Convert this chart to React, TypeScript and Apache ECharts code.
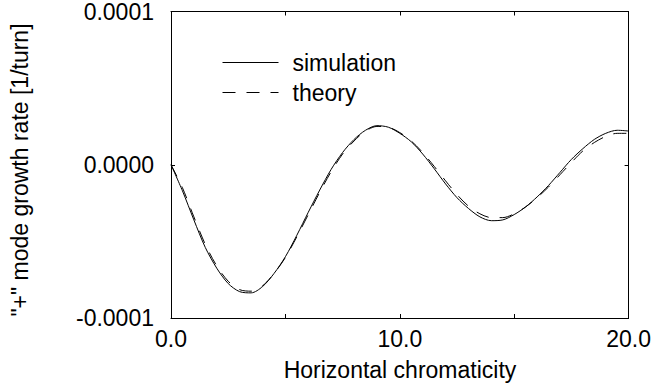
import React, { useEffect, useRef } from "react";
import * as echarts from "echarts";

const chromaticity = [
  0, 0.5, 1, 1.5, 2, 2.5, 3, 3.5, 4, 4.5, 5, 5.5, 6, 6.5, 7, 7.5, 8, 8.5, 9, 9.5, 10,
  10.5, 11, 11.5, 12, 12.5, 13, 13.5, 14, 14.5, 15, 15.5, 16, 16.5, 17, 17.5, 18, 18.5, 19, 19.5, 20,
];

// growth rate in units of 1e-4 [1/turn]
const simulation = [
  0, -0.17, -0.36, -0.54, -0.675, -0.775, -0.828, -0.836, -0.795, -0.71, -0.6, -0.46, -0.31,
  -0.165, -0.03, 0.08, 0.165, 0.225, 0.255, 0.245, 0.205, 0.15, 0.07, -0.025, -0.125, -0.215,
  -0.285, -0.34, -0.365, -0.36, -0.325, -0.275, -0.21, -0.135, -0.05, 0.035, 0.105, 0.165,
  0.205, 0.225, 0.22,
];

const theory = [
  0, -0.15, -0.34, -0.52, -0.66, -0.76, -0.815, -0.825, -0.79, -0.71, -0.605, -0.47, -0.325,
  -0.18, -0.045, 0.07, 0.155, 0.22, 0.25, 0.245, 0.21, 0.155, 0.08, -0.01, -0.105, -0.195,
  -0.27, -0.32, -0.345, -0.345, -0.32, -0.275, -0.215, -0.145, -0.065, 0.015, 0.09, 0.145,
  0.185, 0.205, 0.205,
];

const seriesNames = ["simulation", "theory"];
const xAxisTitle = "Horizontal chromaticity";
const yAxisTitle = '"+" mode growth rate [1/turn]';

const FONT = "'Liberation Sans', Arial, Helvetica, sans-serif";
const FS = 23;

export default function App() {
  const ref = useRef<HTMLDivElement>(null);

  useEffect(() => {
    if (!ref.current) return;
    const chart = echarts.init(ref.current, undefined, { renderer: "svg" });
    const scale = 1e-4;
    const toPairs = (ys: number[]) => chromaticity.map((x, i) => [x, ys[i] * scale]);

    const axisLine = { show: true, onZero: false, lineStyle: { color: "#000", width: 1 } };
    const axisTick = { show: true, inside: true, length: 4, lineStyle: { color: "#000", width: 1 } };

    chart.setOption({
      animation: false,
      backgroundColor: "#fff",
      textStyle: { fontFamily: FONT, color: "#000" },
      grid: { left: 171, right: 23, top: 10, bottom: 69 },
      legend: {
        orient: "vertical",
        left: 217,
        top: 46,
        itemWidth: 56,
        itemHeight: 14,
        itemGap: 7,
        data: seriesNames,
        itemStyle: { opacity: 0 },
        lineStyle: { width: 1, color: "#000" },
        textStyle: { fontFamily: FONT, fontSize: FS, color: "#000", padding: [0, 0, 0, 9] },
      },
      xAxis: [
        {
          type: "value",
          min: 0,
          max: 20,
          interval: 5,
          position: "bottom",
          axisLine,
          axisTick,
          splitLine: { show: false },
          axisLabel: {
            margin: 9,
            fontSize: FS,
            fontFamily: FONT,
            color: "#000",
            formatter: (v: number) => (v % 10 === 0 ? v.toFixed(1) : ""),
          },
        },
        {
          type: "value",
          min: 0,
          max: 20,
          interval: 5,
          position: "top",
          axisLine,
          axisTick,
          splitLine: { show: false },
          axisLabel: { show: false },
        },
      ],
      yAxis: [
        {
          type: "value",
          min: -1e-4,
          max: 1e-4,
          interval: 1e-4,
          position: "left",
          axisLine,
          axisTick,
          splitLine: { show: false },
          axisLabel: {
            margin: 17,
            fontSize: FS,
            fontFamily: FONT,
            color: "#000",
            formatter: (v: number) => v.toFixed(4),
          },
        },
        {
          type: "value",
          min: -1e-4,
          max: 1e-4,
          interval: 1e-4,
          position: "right",
          axisLine,
          axisTick,
          splitLine: { show: false },
          axisLabel: { show: false },
        },
      ],
      graphic: [
        {
          type: "text",
          x: 400,
          y: 370,
          style: {
            text: xAxisTitle,
            fontSize: FS,
            fontFamily: FONT,
            fill: "#000",
            align: "center",
            verticalAlign: "middle",
          },
        },
        {
          type: "text",
          x: 20,
          y: 170,
          rotation: Math.PI / 2,
          style: {
            text: yAxisTitle,
            fontSize: FS,
            fontFamily: FONT,
            fill: "#000",
            align: "center",
            verticalAlign: "middle",
          },
        },
      ],
      series: [
        {
          name: seriesNames[0],
          type: "line",
          data: toPairs(simulation),
          smooth: 0.3,
          symbol: "none",
          lineStyle: { color: "#000", width: 1, type: "solid" },
          itemStyle: { color: "#000" },
        },
        {
          name: seriesNames[1],
          type: "line",
          data: toPairs(theory),
          smooth: 0.3,
          symbol: "none",
          lineStyle: { color: "#000", width: 1, type: [13, 11] },
          itemStyle: { color: "#000" },
        },
      ],
    });

    return () => chart.dispose();
  }, []);

  return (
    <div
      ref={ref}
      style={{ position: "fixed", left: 0, top: 0, width: 654, height: 387, background: "#fff" }}
    />
  );
}
